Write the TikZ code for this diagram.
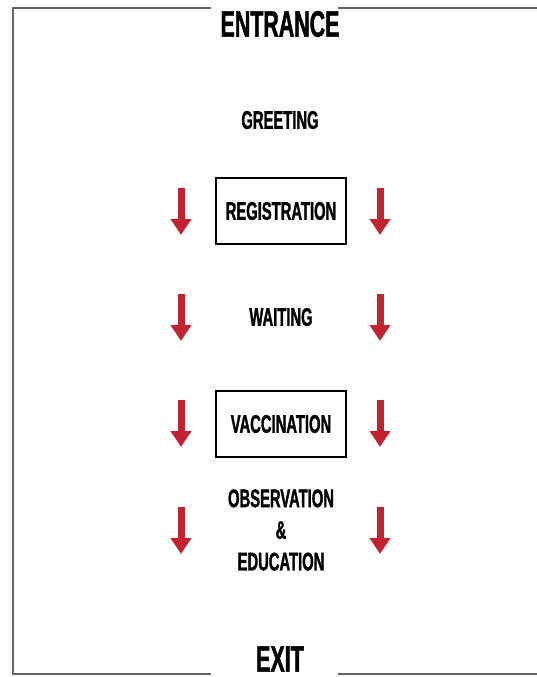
\documentclass[tikz,border=0pt]{standalone}
\usepackage{fontspec}
\setmainfont{Liberation Sans}[FakeStretch=0.58,BoldFont={* Bold},BoldFeatures={FakeStretch=0.58,FakeBold=1.2}]
\usetikzlibrary{arrows.meta,positioning}
\definecolor{arrowred}{RGB}{195,35,48}
\tikzset{
  stage/.style={font=\bfseries\fontsize{14.5}{16}\selectfont,inner sep=0pt},
  door/.style={font=\bfseries\fontsize{21}{24}\selectfont,inner sep=0pt},
  stagebox/.style={draw,line width=0.6pt,minimum width=130*0.02cm,minimum height=66*0.02cm,font=\bfseries\fontsize{14.5}{16}\selectfont},
  flow/.style={arrowred,line width=7*0.02cm,-{Triangle[width=20*0.02cm,length=16*0.02cm]}},
}
\begin{document}
\begin{tikzpicture}[x=0.02cm,y=-0.02cm]
\useasboundingbox (0,0) rectangle (537,677);
\path (280,24) node[door] (entrance) {ENTRANCE};
\path (280,659) node[door] (exit) {EXIT};
\path (280,120) node[stage] (greeting) {GREETING};
\path (281,211) node[stagebox] (registration) {REGISTRATION};
\path (281,317) node[stage] (waiting) {WAITING};
\path (281,424) node[stagebox] (vaccination) {VACCINATION};
\path (281,530) node[stage,align=center] (observation) {OBSERVATION\\[2pt]\&\\[2pt]EDUCATION};
% frame
\coordinate (tl) at (13,8);
\coordinate (bl) at (13,674);
\coordinate (tr) at (537,8);
\coordinate (br) at (537,674);
\draw[gray!80!black,line width=0.6pt] (211,8) -- (tl) -- (bl) -- (211,674);
\draw[gray!80!black,line width=0.6pt] (338,8) -- (tr);
\draw[gray!80!black,line width=0.6pt] (338,674) -- (br);
% arrows
\foreach \y in {188,294,400,507}
{
	\draw[flow] (181,\y) -- (181,\y+47);
	\draw[flow] (380,\y) -- (380,\y+47);
}
\end{tikzpicture}
\end{document}
